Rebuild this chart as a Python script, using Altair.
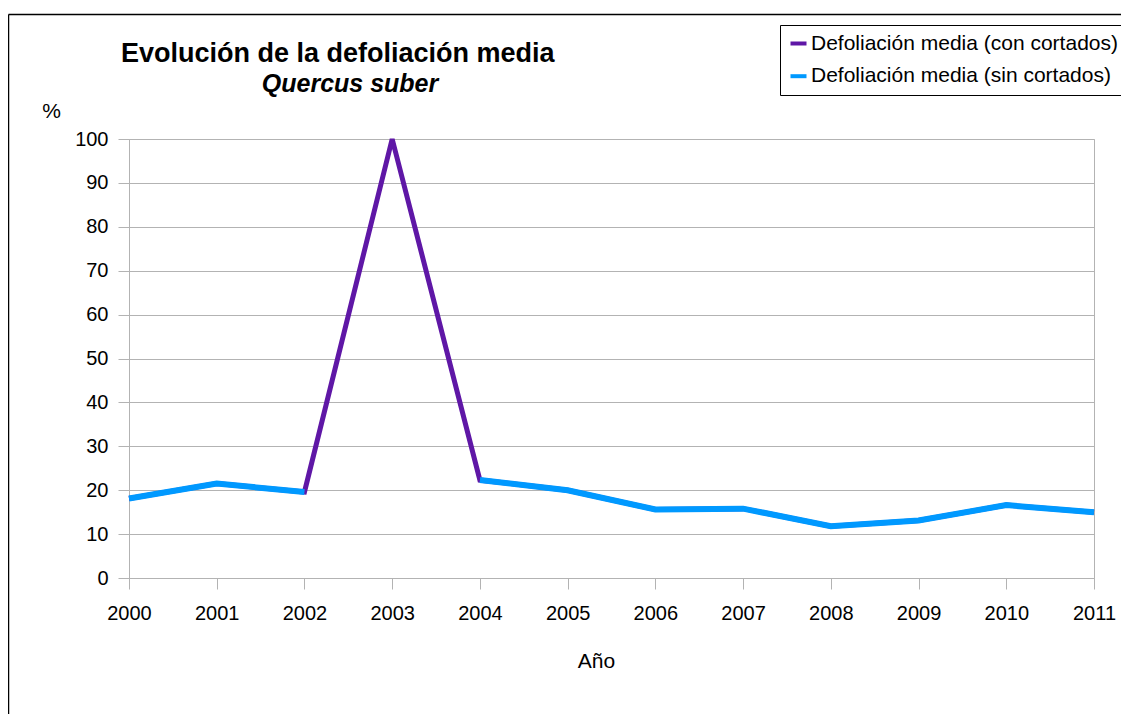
import altair as alt
import pandas as pd

# ---- data ----
years = [2000, 2001, 2002, 2003, 2004, 2005, 2006, 2007, 2008, 2009, 2010, 2011]
con_cortados = [18.1, 21.5, 19.6, 100.0, 22.3, 20.0, 15.6, 15.8, 11.8, 13.1, 16.6, 15.0]
sin_cortados = [18.1, 21.5, 19.6, None, 22.3, 20.0, 15.6, 15.8, 11.8, 13.1, 16.6, 15.0]
y_ticks = [0, 10, 20, 30, 40, 50, 60, 70, 80, 90, 100]

name_con = "Defoliación media (con cortados)"
name_sin = "Defoliación media (sin cortados)"
title_main = "Evolución de la defoliación media"
title_sub = "Quercus suber"

PURPLE = "#5f17a6"
BLUE = "#0099ff"
GRID = "#b3b3b3"
FONT = "Liberation Sans"

# long tables
df_con = pd.DataFrame({"year": years, "value": con_cortados, "series": name_con, "seg": 0})
rows = []
seg = 0
for yr, v in zip(years, sin_cortados):
    if v is None:
        seg += 1
        continue
    rows.append({"year": yr, "value": v, "series": name_sin, "seg": seg})
df_sin = pd.DataFrame(rows)

x_enc = alt.X(
    "year:Q",
    scale=alt.Scale(domain=[years[0], years[-1]], nice=False, zero=False),
    axis=alt.Axis(
        values=years, format="d", grid=False, title="Año",
        labelFontSize=20, labelColor="black", labelPadding=14, labelFlush=False,
        tickSize=11, tickColor=GRID, domainColor=GRID,
        titleFontSize=21, titleFontWeight="normal", titleColor="black",
        titleX=467, titleY=89, titleBaseline="alphabetic", titleAlign="center",
    ),
)
y_enc = alt.Y(
    "value:Q",
    scale=alt.Scale(domain=[0, 100], nice=False),
    axis=alt.Axis(
        values=y_ticks, grid=True, gridColor=GRID, title="%",
        labelFontSize=20, labelColor="black", labelPadding=10,
        tickSize=11, tickColor=GRID, domainColor=GRID,
        titleFontSize=21, titleFontWeight="normal", titleColor="black",
        titleAngle=0, titleX=-78, titleY=-22, titleAlign="center",
        titleBaseline="alphabetic",
    ),
)
color_enc = alt.Color(
    "series:N",
    scale=alt.Scale(domain=[name_con, name_sin], range=[PURPLE, BLUE]),
    legend=alt.Legend(
        orient="none", legendX=651, legendY=-114, title=None,
        symbolType="stroke", symbolSize=256, symbolStrokeWidth=4,
        labelFontSize=21, labelColor="black", labelOffset=2, labelLimit=500,
        strokeColor="black", fillColor="white", padding=8, rowPadding=10.7,
    ),
)

line_con = alt.Chart(df_con).mark_line(strokeWidth=5).encode(
    x=x_enc, y=y_enc, color=color_enc
)
line_sin = alt.Chart(df_sin).mark_line(strokeWidth=6).encode(
    x=x_enc, y=y_enc, color=color_enc, detail="seg:N"
)

one = pd.DataFrame({"t": [title_main]})
t1 = alt.Chart(one).mark_text(
    fontSize=27, fontWeight="bold", align="center", baseline="alphabetic", color="black"
).encode(x=alt.value(208.7), y=alt.value(-77), text="t:N")
two = pd.DataFrame({"t": [title_sub]})
t2 = alt.Chart(two).mark_text(
    fontSize=25, fontWeight="bold", fontStyle="italic", align="center",
    baseline="alphabetic", color="black"
).encode(x=alt.value(221), y=alt.value(-47), text="t:N")

frame_df = pd.DataFrame({"k": [0]})
frame_left = alt.Chart(frame_df).mark_rule(color="black", strokeWidth=1.5).encode(
    x=alt.value(-120.5), y=alt.value(-124.5), y2=alt.value(600)
)
frame_top = alt.Chart(frame_df).mark_rule(color="black", strokeWidth=1.5).encode(
    x=alt.value(-120.5), x2=alt.value(1000), y=alt.value(-124.5)
)

chart = alt.layer(frame_left, frame_top, line_con, line_sin, t1, t2).properties(
    width=965, height=439,
    padding={"left": 121, "top": 131, "right": 27, "bottom": 136},
    autosize="none",
    background="white",
).configure(font=FONT).configure_view(stroke=GRID, strokeWidth=1)

chart.save("out.html", embed_options={"renderer": "svg", "actions": False})
